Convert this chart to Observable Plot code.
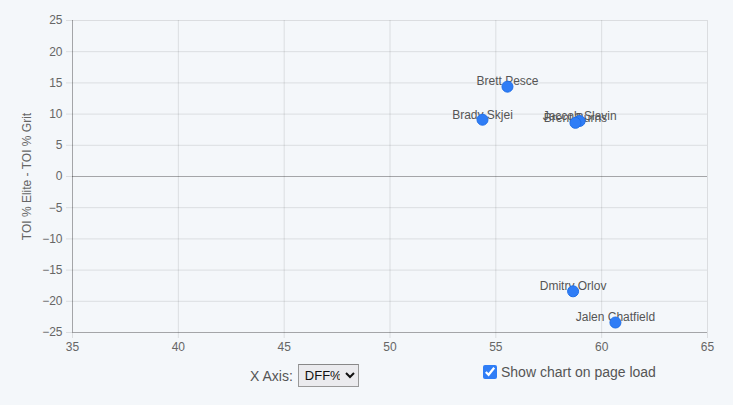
<!DOCTYPE html>
<html>
<head>
<meta charset="utf-8">
<script src="https://cdn.jsdelivr.net/npm/d3@7"></script>
<script src="https://cdn.jsdelivr.net/npm/@observablehq/plot@0.6"></script>
<style>
  html, body { margin: 0; padding: 0; background: #f4f7fa; }
  body { width: 733px; height: 405px; overflow: hidden; font-family: "Liberation Sans", Arial, Helvetica, sans-serif; }
  #chart svg { display: block; background: transparent; }
  .controls { position: relative; height: 50px; font-size: 14px; color: #555; }
  .xaxis { position: absolute; left: 250px; top: 9px; display: flex; align-items: center; }
  .xaxis select { margin-left: 5px; font-size: 13px; font-family: inherit; height: 23px; width: 61px; background: #ebebee; border: 1px solid #999; border-top-color: #888; color: #111; padding: 0 2px; }
  .show { position: absolute; left: 482px; top: 9px; display: flex; align-items: center; }
  .show input { margin: 0 4px 0 1px; width: 14px; height: 14px; accent-color: #2f7df6; }
</style>
</head>
<body>
<div id="chart"></div>
<div class="controls">
  <div class="xaxis"><span>X Axis:</span><select><option>DFF%</option></select></div>
  <label class="show"><input type="checkbox" checked>Show chart on page load</label>
</div>
<script>
const players = ["Brett Pesce", "Brady Skjei", "Jaccob Slavin", "Brent Burns", "Dmitry Orlov", "Jalen Chatfield"];
const dffPct = [55.55, 54.37, 58.96, 58.76, 58.65, 60.65];
const toiDiff = [14.4, 9.1, 8.9, 8.6, -18.4, -23.4];
const xTicks = [35, 40, 45, 50, 55, 60, 65];
const yTicks = [-25, -20, -15, -10, -5, 0, 5, 10, 15, 20, 25];
const yTitle = "TOI % Elite - TOI % Grit";

const data = players.map((name, i) => ({name, x: dffPct[i], y: toiDiff[i]}));

const chart = Plot.plot({
  width: 733,
  height: 355,
  marginTop: 20,
  marginBottom: 23,
  marginLeft: 72,
  marginRight: 26,
  style: {background: "transparent", fontFamily: "'Liberation Sans', Arial, Helvetica, sans-serif", fontSize: "12px"},
  x: {domain: [35, 65], ticks: xTicks},
  y: {domain: [-25, 25], ticks: yTicks},
  marks: [
    Plot.gridX(xTicks, {stroke: "#000", strokeOpacity: 0.1}),
    Plot.gridY(yTicks, {stroke: "#000", strokeOpacity: 0.1}),
    Plot.ruleY([0], {stroke: "#000", strokeOpacity: 0.25}),
    Plot.ruleX([35], {stroke: "#000", strokeOpacity: 0.25}),
    Plot.ruleY([-25], {stroke: "#000", strokeOpacity: 0.25}),
    Plot.axisX(xTicks, {tickSize: 6, tickPadding: 4, stroke: "#000", strokeOpacity: 0.1, fill: "#666", label: null, fontSize: 12}),
    Plot.axisY(yTicks, {tickSize: 6, tickPadding: 4, stroke: "#000", strokeOpacity: 0.1, fill: "#666", label: null, fontSize: 12}),
    Plot.text([yTitle], {frameAnchor: "left", dx: -45, rotate: -90, fill: "#666", fontSize: 12, textAnchor: "middle"}),
    Plot.text(data, {x: "x", y: "y", text: "name", dy: -5, fill: "#555", fontSize: 12}),
    Plot.dot(data, {x: "x", y: "y", r: 5.5, fill: "#2f7df6", stroke: "#1f6fe8", strokeWidth: 1})
  ]
});
document.getElementById("chart").append(chart);
</script>
</body>
</html>
